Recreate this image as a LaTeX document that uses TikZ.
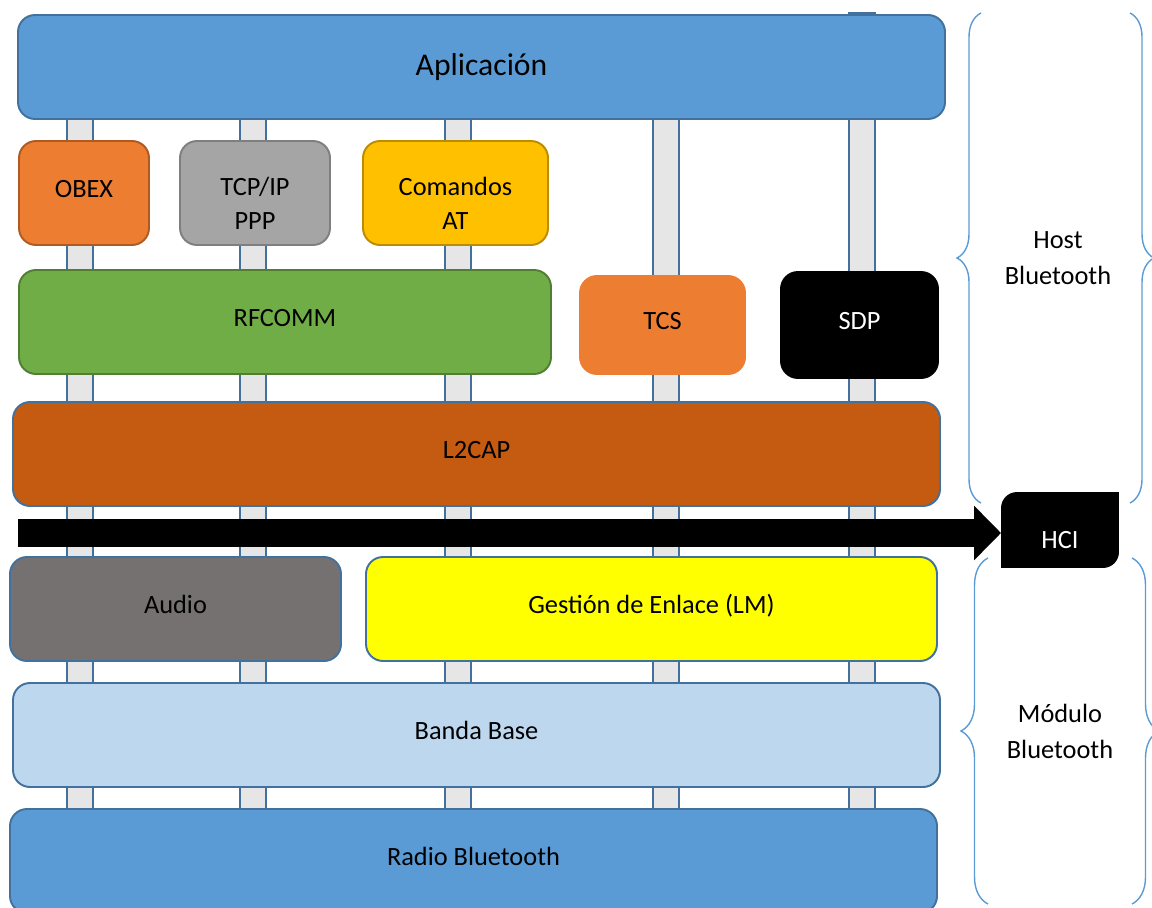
\documentclass[tikz,border=0pt]{standalone}
\usepackage{fontspec}
\setmainfont{Carlito}
\usetikzlibrary{arrows.meta,decorations.pathreplacing}

\definecolor{azul}{HTML}{5B9BD5}
\definecolor{borde}{HTML}{41719C}
\definecolor{naranja}{HTML}{ED7D31}
\definecolor{naranjaborde}{HTML}{AE5A21}
\definecolor{gris}{HTML}{A5A5A5}
\definecolor{grisborde}{HTML}{7F7F7F}
\definecolor{oro}{HTML}{FFC000}
\definecolor{oroborde}{HTML}{BC8C00}
\definecolor{verde}{HTML}{70AD47}
\definecolor{verdeborde}{HTML}{507E32}
\definecolor{teja}{HTML}{C55A11}
\definecolor{grisoscuro}{HTML}{767171}
\definecolor{amarillo}{HTML}{FFFF00}
\definecolor{celeste}{HTML}{BDD7EE}
\definecolor{grisclaro}{HTML}{E7E6E6}

\tikzset{
  texto/.style={align=center, font=\fontsize{15}{19.4}\selectfont},
  capa/.style 2 args={texto, draw=borde, line width=1.1pt, rounded corners=3.4mm,
    minimum width=#1*0.2mm, minimum height=#2*0.2mm, inner sep=0pt,
    text height=3.2mm, text depth=1.4mm},
  bajo/.style={label={[texto, yshift=-2mm]center:#1}},
  pilar/.style={draw=borde, fill=grisclaro, line width=0.8pt},
  llave/.style={draw=azul, line width=0.8pt, decorate},
  lado/.style={align=center, font=\fontsize{15}{20.5}\selectfont},
  bus/.style={line width=5.6mm, -{Triangle[length=5.4mm, width=10.6mm]}},
}

\begin{document}
\begin{tikzpicture}[x=0.2mm, y=-0.2mm]
    \useasboundingbox (0,0) rectangle (1152,908);

    % pilares
    \foreach \px/\arriba in {80/30, 253/30, 458/30, 666/30, 862/13}
        \draw[pilar] (\px-13,\arriba) rectangle (\px+13,908);

    % host
    \node[capa={927}{104}, fill=azul, font=\fontsize{18}{22}\selectfont, text height=, text depth=] (app) at (481.5,67) {Aplicación};
    \node[capa={130}{104}, fill=naranja, draw=naranjaborde] (obex) at (84,193) {OBEX};
    \node[capa={150}{104}, fill=gris, draw=grisborde, bajo={TCP/IP\\PPP}] (tcpip) at (255,193) {};
    \node[capa={185}{104}, fill=oro, draw=oroborde, bajo={Comandos\\AT}] (at) at (455.5,193) {};
    \node[capa={532}{104}, fill=verde, draw=verdeborde] (rfcomm) at (285,322) {RFCOMM};
    \node[capa={165}{98}, fill=naranja, draw=naranja] (tcs) at (662.5,325) {TCS};
    \node[capa={157}{106}, fill=black, draw=black, text=white] (sdp) at (859.5,325) {SDP};
    \node[capa={927}{104}, fill=teja] (l2cap) at (476.5,454) {L2CAP};

    % interfaz HCI
    \node[capa={116}{74}, fill=black, draw=black, rounded corners=3mm,
          label={[texto, text=white, yshift=-2mm]center:HCI}] (hci) at (1060,530) {};
    \fill (hci.north east) rectangle ++(-4mm,-4mm);
    \fill (hci.south west) rectangle ++(4mm,4mm);
    \coordinate (bus) at (18,533);
    \draw[bus] (bus) -- (bus -| hci.west);

    % modulo
    \node[capa={331}{104}, fill=grisoscuro] (audio) at (175.5,609) {Audio};
    \node[capa={571}{104}, fill=amarillo] (lm) at (651.5,609) {Gestión de Enlace (LM)};
    \node[capa={927}{104}, fill=celeste] (bb) at (476.5,735) {Banda Base};
    \node[capa={927}{104}, fill=azul] (radio) at (473.5,861) {Radio Bluetooth};

    % llaves
    \draw[llave, decoration={brace, amplitude=4.8mm}] (981,503) -- (981,13);
    \draw[llave, decoration={brace, amplitude=4.8mm}] (1130,13) -- (1130,503);
    \node[lado] (host) at (1058,258) {Host\\Bluetooth};
    \draw[llave, decoration={brace, amplitude=5.4mm}] (988,904) -- (988,558);
    \draw[llave, decoration={brace, amplitude=5.4mm}] (1132,558) -- (1132,904);
    \node[lado] (modulo) at (1060,731) {Módulo\\Bluetooth};
\end{tikzpicture}
\end{document}
